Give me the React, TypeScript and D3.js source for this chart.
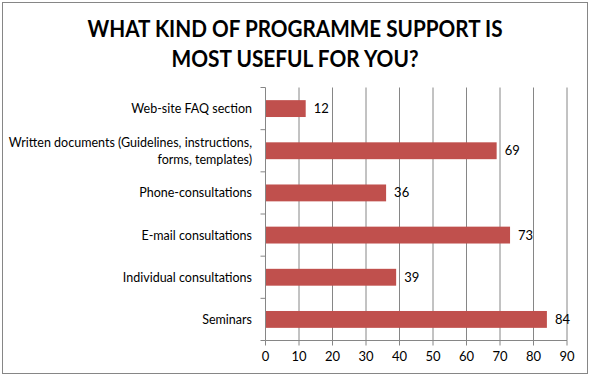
import React from "react";
import * as d3 from "d3";

const categories: string[][] = [
  ["Web-site FAQ section"],
  ["Written documents (Guidelines, instructions,", "forms, templates)"],
  ["Phone-consultations"],
  ["E-mail consultations"],
  ["Individual consultations"],
  ["Seminars"],
];
const values: number[] = [12, 69, 36, 73, 39, 84];
const xTicks: number[] = [0, 10, 20, 30, 40, 50, 60, 70, 80, 90];
const titleLines: string[] = ["WHAT KIND OF PROGRAMME SUPPORT IS", "MOST USEFUL FOR YOU?"];

const W = 592;
const H = 377;
const left = 265.5;
const right = 567;
const top = 87.5;
const bottom = 340.5;
const font = "Lato, 'Open Sans', sans-serif";

export default function App() {
  const x = d3.scaleLinear().domain([0, 90]).range([left, right]);
  const idx = categories.map((_, i) => String(i));
  const y = d3.scaleBand().domain(idx).range([top, bottom]).paddingInner(0.6).paddingOuter(0.3);
  const band = (bottom - top) / categories.length;
  const bounds = d3.range(categories.length + 1).map((i) => top + i * band);

  return (
    <svg width={W} height={H} style={{ position: "absolute", left: 0, top: 0 }}>
      <rect x={0} y={0} width={W} height={H} fill="#fff" />
      <rect x={2.5} y={2.5} width={585} height={371} fill="none" stroke="#868686" strokeWidth={1} />
      {titleLines.map((t, i) => (
        <text
          key={i}
          x={W / 2 - 1}
          y={37 + i * 30}
          textAnchor="middle"
          fontFamily={font}
          fontWeight="bold"
          fontSize={23}
          fill="#000"
          textLength={i === 0 ? 415 : 247}
          lengthAdjust="spacingAndGlyphs"
        >
          {t}
        </text>
      ))}
      {xTicks.slice(1).map((t) => (
        <line key={t} x1={x(t)} x2={x(t)} y1={top} y2={bottom} stroke="#868686" strokeWidth={1} />
      ))}
      {values.map((v, i) => (
        <rect
          key={i}
          x={x(0)}
          y={y(String(i))}
          width={x(v) - x(0)}
          height={y.bandwidth()}
          fill="#C0504D"
        />
      ))}
      <line x1={left} x2={left} y1={top} y2={bottom} stroke="#868686" />
      <line x1={left} x2={right} y1={bottom} y2={bottom} stroke="#868686" />
      {bounds.map((b, i) => (
        <line key={i} x1={left - 5} x2={left} y1={b} y2={b} stroke="#868686" />
      ))}
      {xTicks.map((t) => (
        <g key={t}>
          <line x1={x(t)} x2={x(t)} y1={bottom} y2={bottom + 5} stroke="#868686" />
          <text x={x(t)} y={361} textAnchor="middle" fontFamily={font} fontSize={13} fill="#000">
            {t}
          </text>
        </g>
      ))}
      {values.map((v, i) => (
        <text
          key={i}
          x={x(v) + 8}
          y={(y(String(i)) as number) + y.bandwidth() / 2 + 4.5}
          fontFamily={font}
          fontSize={13}
          fill="#000"
        >
          {v}
        </text>
      ))}
      {categories.map((lines, i) => {
        const cy = (y(String(i)) as number) + y.bandwidth() / 2;
        const lh = 16.5;
        const start = cy - ((lines.length - 1) * lh) / 2 + 4.5;
        return lines.map((l, j) => (
          <text
            key={i + "-" + j}
            x={252}
            y={start + j * lh}
            textAnchor="end"
            fontFamily={font}
            fontSize={12.5}
            fill="#000"
          >
            {l}
          </text>
        ));
      })}
    </svg>
  );
}
